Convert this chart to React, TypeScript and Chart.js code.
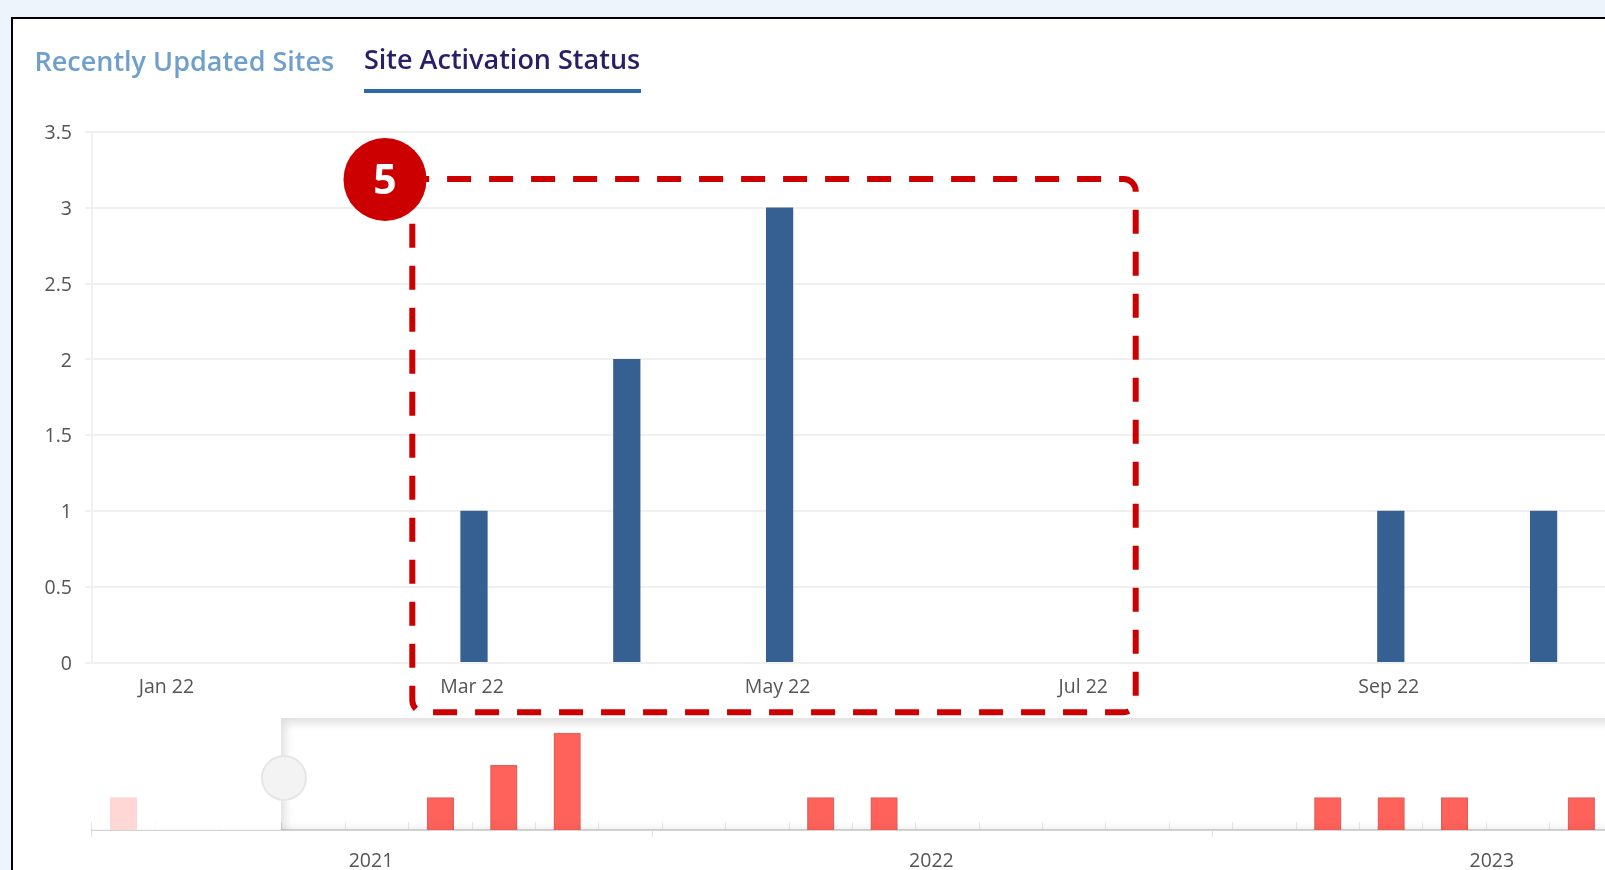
import React, { useEffect, useRef } from "react";
import { Chart, registerables } from "chart.js";

Chart.register(...registerables);

const mainMonths = ["Jan 22", "Feb 22", "Mar 22", "Apr 22", "May 22", "Jun 22", "Jul 22", "Aug 22", "Sep 22", "Oct 22"];
const mainValues = [null, null, 1, 2, 3, null, null, null, 1, 1];
const mainTickLabels = ["Jan 22", "Mar 22", "May 22", "Jul 22", "Sep 22"];
const mainYTicks = [0, 0.5, 1, 1.5, 2, 2.5, 3, 3.5];

const navMonths = [
  "Oct 21", "Nov 21", "Dec 21", "Jan 22", "Feb 22", "Mar 22", "Apr 22", "May 22",
  "Jun 22", "Jul 22", "Aug 22", "Sep 22", "Oct 22", "Nov 22", "Dec 22", "Jan 23",
  "Feb 23", "Mar 23", "Apr 23", "May 23", "Jun 23", "Jul 23", "Aug 23", "Sep 23",
];
const navValues = [1, null, null, null, null, 1, 2, 3, null, null, null, 1, 1, null, null, null, null, null, null, 1, 1, 1, null, 1];
const navYears = [2021, 2022, 2023];

const FONT = '"Open Sans", "Noto Sans", sans-serif';

export default function App() {
  const mainRef = useRef<HTMLCanvasElement>(null);
  const navRef = useRef<HTMLCanvasElement>(null);

  useEffect(() => {
    const main = new Chart(mainRef.current!, {
      type: "bar",
      data: {
        labels: mainMonths,
        datasets: [{ data: mainValues, backgroundColor: "#376092", barThickness: 26.6 }],
      },
      options: {
        animation: false,
        responsive: false,
        layout: { padding: { top: 132, right: 80, left: 0, bottom: 0 } },
        plugins: { legend: { display: false }, tooltip: { enabled: false } },
        scales: {
          x: {
            afterFit: (s: any) => { s.height = 55.3; },
            grid: { display: false, drawTicks: false },
            border: { display: false },
            ticks: {
              autoSkip: false,
              maxRotation: 0,
              padding: 13.5,
              labelOffset: -2,
              color: "#555555",
              font: { family: FONT, size: 19.5 },
              callback(this: any, v: any) {
                const l = this.getLabelForValue(v);
                return mainTickLabels.includes(l) ? l : "";
              },
            },
          },
          y: {
            min: 0,
            max: 3.5,
            afterFit: (s: any) => { s.width = 92; },
            afterBuildTicks: (s: any) => {
              s.ticks = mainYTicks.map((value) => ({ value }));
            },
            grid: { color: "#f0f0f0", lineWidth: 2, tickLength: 7 },
            border: { color: "#f0f0f0", width: 2 },
            ticks: {
              padding: 13,
              labelOffset: 1.5,
              color: "#555555",
              font: { family: FONT, size: 19.5 },
              callback: (v: any) => String(v),
            },
          },
        },
      },
    } as any);

    const nav = new Chart(navRef.current!, {
      type: "bar",
      data: {
        labels: navMonths,
        datasets: [{
          data: navValues,
          backgroundColor: "#ff625a",
          borderColor: "#e2625d",
          borderWidth: 1.5,
          barThickness: 26.6,
          xAxisID: "x",
        }],
      },
      options: {
        animation: false,
        responsive: false,
        layout: { padding: { top: 0, right: 87, left: 91.8, bottom: 0 } },
        plugins: { legend: { display: false }, tooltip: { enabled: false } },
        scales: {
          x: {
            position: "bottom",
            afterFit: (s: any) => { s.height = 0; },
            grid: { drawOnChartArea: false, color: "#e6e6e6", tickLength: -8, lineWidth: 1 },
            border: { color: "#d4d4d4", width: 2 },
            ticks: { display: false },
          },
          xYear: {
            type: "linear",
            axis: "x",
            position: "bottom",
            offset: false,
            min: navYears[0],
            max: navYears[0] + 1520.9 / 560.3,
            afterFit: (s: any) => { s.height = 40; },
            afterBuildTicks: (s: any) => {
              const t: any[] = [];
              navYears.forEach((y) => { t.push({ value: y }); t.push({ value: y + 0.5 }); });
              s.ticks = t;
            },
            grid: {
              offset: false,
              drawOnChartArea: false,
              tickLength: 7,
              color: (c: any) => (Number.isInteger(c.tick?.value) ? "#dddddd" : "rgba(0,0,0,0)"),
            },
            border: { display: false },
            ticks: {
              autoSkip: false,
              maxRotation: 0,
              padding: 13,
              labelOffset: -1,
              color: "#555555",
              font: { family: FONT, size: 19.5 },
              callback: (v: any) => (Number.isInteger(v) ? "" : String(Math.floor(v))),
            },
          },
          y: { display: false, min: 0, max: 3.467 },
        },
      },
    } as any);

    return () => { main.destroy(); nav.destroy(); };
  }, []);

  const abs = (o: React.CSSProperties): React.CSSProperties => ({ position: "absolute", ...o });

  return (
    <div style={{ position: "fixed", inset: 0, overflow: "hidden", background: "#edf4fb", fontFamily: FONT }}>
      <div style={abs({ left: 11, top: 16.5, width: 1700, height: 900, background: "#fff", border: "2px solid #000", boxSizing: "border-box" })} />
      <div style={abs({ left: 34.5, top: 42, fontSize: 27, fontWeight: 600, color: "#6f9fcc", whiteSpace: "nowrap", filter: "blur(0.4px)" })}>Recently Updated Sites</div>
      <div style={abs({ left: 364, top: 40, fontSize: 27, fontWeight: 600, color: "#2a1f66", whiteSpace: "nowrap", filter: "blur(0.4px)" })}>Site Activation Status</div>
      <div style={abs({ left: 364, top: 88.5, width: 277, height: 4, background: "#2a69ac" })} />

      <canvas ref={mainRef} width={1700} height={718} style={abs({ left: 0, top: 0, width: 1700, height: 718, filter: "blur(0.4px)" })} />
      <canvas ref={navRef} width={1700} height={152} style={abs({ left: 0, top: 718, width: 1700, height: 152, filter: "blur(0.4px)" })} />

      <div style={abs({ left: 92, top: 718, width: 188.6, height: 112, background: "rgba(255,255,255,0.75)" })} />
      <div style={abs({ left: 280.6, top: 718, width: 1400, height: 112, boxShadow: "inset 7px 8px 10px -3px rgba(0,0,0,0.13), inset 0 -8px 8px -6px rgba(0,0,0,0.08)" })} />
      <div style={abs({ left: 261, top: 755, width: 46, height: 46, borderRadius: "50%", background: "#f3f3f3", border: "2px solid #e6e6e6", boxSizing: "border-box" })} />

      <svg width={1605} height={870} style={abs({ left: 0, top: 0 })}>
        <rect x={412.3} y={179} width={723.4} height={533.3} rx={12} fill="none" stroke="#cc0000" strokeWidth={6} strokeDasharray="24 18" strokeDashoffset={-22.8} />
        <circle cx={385} cy={179.5} r={41.5} fill="#cc0000" />
        <text x={385} y={194} textAnchor="middle" fontSize={41} fontWeight={700} fill="#fff" fontFamily={FONT}>5</text>
      </svg>
    </div>
  );
}
